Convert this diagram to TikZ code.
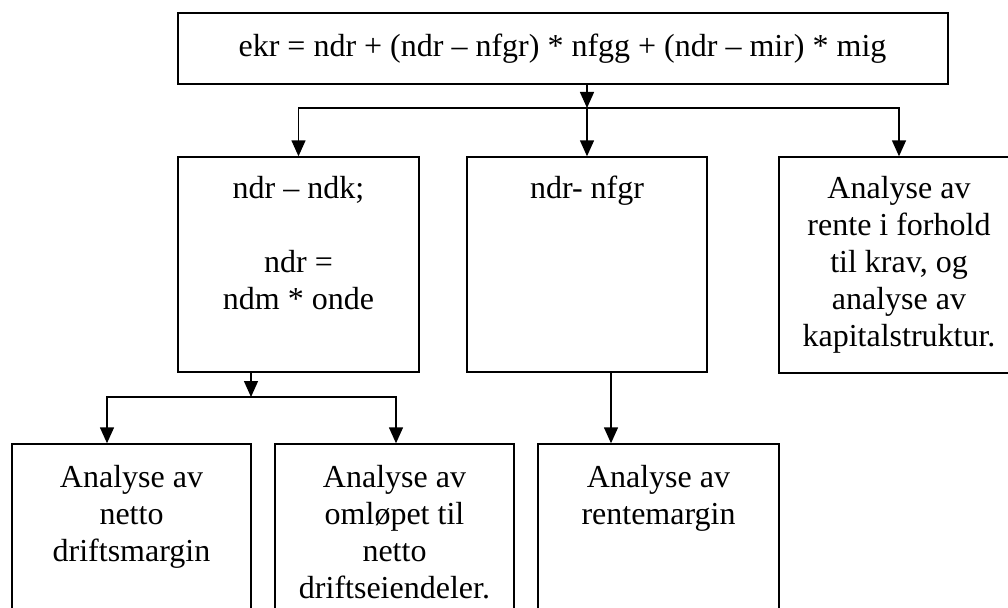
\documentclass[tikz,border=0pt]{standalone}
\usepackage{fontspec}
\setmainfont{Liberation Serif}
\usetikzlibrary{arrows.meta}
\newcommand\boxlines[1]{\begin{tabular}[t]{@{}c@{}}#1\end{tabular}}
\begin{document}
\begin{tikzpicture}[x=1pt,y=-1pt,
  box/.style={draw, line width=1.4pt, inner sep=0pt, rectangle},
  txt/.style={font=\fontsize{32}{37}\selectfont, inner sep=0pt, anchor=base},
  arr/.style={line width=1.4pt, -{Triangle[length=16pt,width=14pt]}}]
\useasboundingbox (0,0) rectangle (1008,607);
\clip (0,0) rectangle (1008,607);
\fill[white] (0,0) rectangle (1008,607);
% boxes
\node[box, minimum width=770pt, minimum height=71pt] (top) at (563,48.5) {};
\node[box, minimum width=241pt, minimum height=215pt] (b1) at (298.5,264.5) {};
\node[box, minimum width=240pt, minimum height=215pt] (b2) at (587,264.5) {};
\node[box, minimum width=240pt, minimum height=216pt] (b3) at (899,265) {};
\node[box, minimum width=239pt, minimum height=196pt] (n1) at (131.5,542) {};
\node[box, minimum width=239pt, minimum height=196pt] (n2) at (394.5,542) {};
\node[box, minimum width=241pt, minimum height=196pt] (n3) at (658.5,542) {};
% texts
\node[txt] (ttop) at (562.5,57) {ekr = ndr + (ndr – nfgr) * nfgg + (ndr – mir) * mig};
\node[txt] (tb1) at (298.5,198) {\boxlines{ndr – ndk;\\[37pt]ndr =\\ndm * onde}};
\node[txt] (tb2) at (587,198) {ndr- nfgr};
\node[txt] (tb3) at (899,198) {\boxlines{Analyse av\\rente i forhold\\til krav, og\\analyse av\\kapitalstruktur.}};
\node[txt] (tn1) at (131.5,487) {\boxlines{Analyse av\\netto\\driftsmargin}};
\node[txt] (tn2) at (394.5,487) {\boxlines{Analyse av\\omløpet til\\netto\\driftseiendeler.}};
\node[txt] (tn3) at (658.5,487) {\boxlines{Analyse av\\rentemargin}};
% connectors
\coordinate (j1) at (587,108);
\draw[arr] (top.south -| j1) -- (j1);
\draw[arr] (j1) -- (b2.north);
\draw[arr] (j1) -| (b1.north);
\draw[arr] (j1) -| (b3.north);
\coordinate (j2) at (251,397);
\coordinate (a1) at (107,397);
\coordinate (a2) at (396,397);
\coordinate (a3) at (611,372);
\draw[arr] (b1.south -| j2) -- (j2);
\draw[arr] (j2) -| (a1 |- n1.north);
\draw[arr] (j2) -| (a2 |- n2.north);
\draw[arr] (a3) -- (a3 |- n3.north);
\end{tikzpicture}
\end{document}
